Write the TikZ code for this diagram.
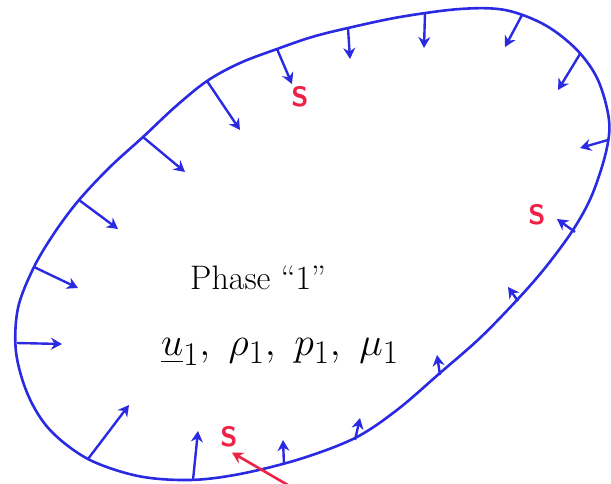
\documentclass[tikz,border=0pt]{standalone}
\usepackage{amsmath,amssymb}
\usepackage{xcolor}
\usepackage{tikz}
\usetikzlibrary{calc,arrows.meta,positioning}
\definecolor{penblue}{HTML}{2A2AE2}
\definecolor{penred}{HTML}{EE2244}
\tikzset{
  rim/.style={penblue,line width=2.6pt,line join=round},
  ar/.style={-{Stealth[length=11pt,width=12pt]},line width=2.4pt,penblue},
  rar/.style={-{Stealth[length=11pt,width=12pt]},line width=2.6pt,penred},
  lbl/.style={font=\fontsize{34}{40}\selectfont,inner sep=0pt},
  smark/.style={penred,font=\fontsize{28}{30}\selectfont\sffamily\bfseries,inner sep=1pt}
}

\begin{document}
\begin{tikzpicture}[x=1pt,y=-1pt]
\useasboundingbox (0,0) rectangle (611,484);
\clip (0,0) rectangle (611,484);
% interface of phase 1
\draw[rim] plot[smooth cycle,tension=0.55] coordinates {
  (348,28) (400,17) (460,9) (505,10) (545,25) (577,50) (598,80)
  (609,120) (606,152) (592,195) (573,230) (545,268) (517,300)
  (480,338) (440,373) (397,410) (355,438) (300,459) (240,474)
  (190,480) (138,476) (88,459) (50,430) (28,395) (16,352) (18,308)
  (34,267) (55,232) (79,200) (110,167) (143,137) (175,107) (207,81)
  (240,63) (277,49) (312,37)};
% normals at the interface
\foreach \x/\y/\u/\v in {79/200/118/229, 143/137/185/172, 207/81/240/130,
  277/49/292/84, 348/28/350/59, 425/13/424/48, 522/15/505/47,
  580/54/558/90, 608/140/580/148, 575/232/557/219, 518/301/508/287,
  440/375/437/355, 355/440/360/418, 284/465/283/440, 193/480/198/431,
  88/459/129/405, 17/343/62/344, 34/267/78/288}
  \draw[ar] (\x,\y) -- (\u,\v);
% labels
\node[lbl] (phase) at (258,278) {Phase ``1''};
\node[lbl,font=\Huge] (props) at (280,352)
  {\scalebox{1.6}{$\underline{u}_1,\ \rho_1,\ p_1,\ \mu_1$}};
\node[smark] (stop) at (300,97) {S};
\node[smark] (sright) at (537,215) {S};
\node[smark] (sbot) at (229,437) {S};
\coordinate (rtail) at (305,495);
\draw[rar] (rtail) -- ($(sbot.south)+(3,4)$);
\end{tikzpicture}
\end{document}
